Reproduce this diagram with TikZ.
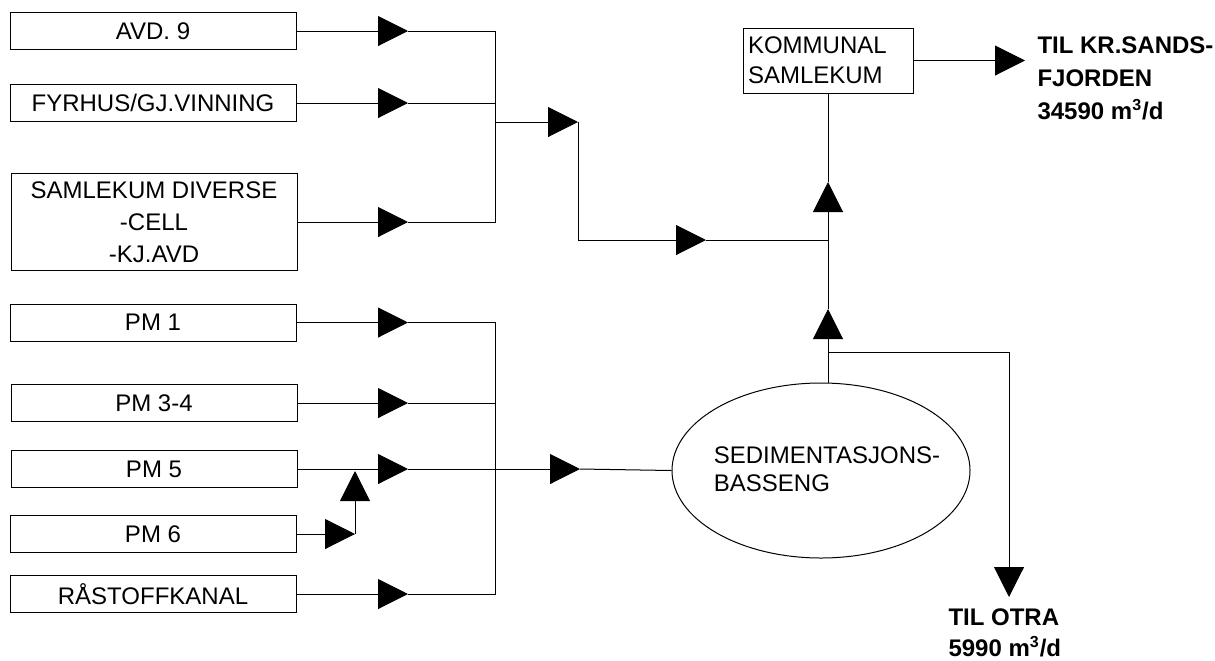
\documentclass[tikz,border=0pt]{standalone}
\usepackage{fontspec}
\setmainfont{Liberation Sans}
\usetikzlibrary{arrows.meta,shapes.geometric,positioning}

\tikzset{
  unit/.style={draw, minimum width=143pt, minimum height=18.5pt, inner sep=0pt},
  basin/.style={draw, ellipse, minimum width=149pt, minimum height=87.5pt, inner sep=0pt},
  flow/.style={-{Triangle[length=15pt,width=15pt]}},
  outtxt/.style={font=\bfseries\fontsize{12}{16.5}\selectfont, align=left, inner sep=0pt, anchor=north west},
}

\begin{document}
\begin{tikzpicture}[x=0.5pt, y=-0.5pt, line width=0.5pt,
    every node/.style={font=\fontsize{12}{16}\selectfont}]
    \useasboundingbox (0,0) rectangle (1215,660);

    % sources, upper group
    \node[unit] (avd) at (153,31) {AVD. 9};
    \node[unit] (fyr) at (153,103) {FYRHUS/GJ.VINNING};
    \node[unit, minimum height=48.5pt, align=center] (div) at (154,222) {SAMLEKUM DIVERSE\\-CELL\\-KJ.AVD};

    % sources, lower group
    \node[unit] (pm1) at (153,322.5) {PM 1};
    \node[unit] (pm34) at (154,403) {PM 3-4};
    \node[unit] (pm5) at (154,469) {PM 5};
    \node[unit] (pm6) at (153,534) {PM 6};
    \node[unit] (raa) at (153,594) {RÅSTOFFKANAL};

    % collector, basin and outlets
    \node[draw, text width=80pt, inner sep=2.5pt, minimum height=32.5pt, align=left,
          font=\fontsize{12}{15}\selectfont] (kom) at (828,60.5) {KOMMUNAL\\SAMLEKUM};
    \node[basin] (sed) at (821,470.5) {};
    \node[align=left, inner sep=0pt, font=\fontsize{12}{14}\selectfont] (sedtxt) at (827,469) {SEDIMENTASJONS-\\BASSENG};
    \node[outtxt] (fjordtxt) at (1037,36) {TIL KR.SANDS-\\FJORDEN\\34590 m\textsuperscript{3}/d};
    \node[outtxt, font=\bfseries\fontsize{12}{15.5}\selectfont] (otratxt) at (948,608) {TIL OTRA\\5990 m\textsuperscript{3}/d};

    % columns and bends
    \coordinate (incol) at (408,0);
    \coordinate (bus) at (495,0);
    \coordinate (j1) at (495,122);
    \coordinate (j2) at (578,122);
    \coordinate (j3) at (578,240);
    \coordinate (j4) at (706,240);
    \coordinate (p6a) at (355,534);
    \coordinate (p6b) at (355,471);
    \coordinate (p5) at (580,469);
    \coordinate (u1) at (828,309);
    \coordinate (u2) at (828,182);
    \coordinate (split) at (828,352);
    \coordinate (fjord) at (1025,60.5);
    \coordinate (otra) at (1009,597);

    % upper group into the collector
    \draw[flow] (avd.east) -- (avd.east -| incol);
    \draw[flow] (fyr.east) -- (fyr.east -| incol);
    \draw[flow] (div.east) -- (div.east -| incol);
    \draw (avd.east -| incol) -- (avd.east -| bus) -- (div.east -| bus) -- (div.east -| incol);
    \draw (fyr.east -| incol) -- (fyr.east -| bus);
    \draw[flow] (j1) -- (j2);
    \draw (j2) -- (j3);
    \draw[flow] (j3) -- (j4);
    \draw (j4) -- (j4 -| kom.south);

    % lower group into the basin
    \draw[flow] (pm1.east) -- (pm1.east -| incol);
    \draw[flow] (pm34.east) -- (pm34.east -| incol);
    \draw[flow] (pm5.east) -- (pm5.east -| incol);
    \draw[flow] (raa.east) -- (raa.east -| incol);
    \draw[flow] (pm6.east) -- (p6a);
    \draw[flow] (p6a) -- (p6b);
    \draw (pm1.east -| incol) -- (pm1.east -| bus) -- (raa.east -| bus) -- (raa.east -| incol);
    \draw (pm34.east -| incol) -- (pm34.east -| bus);
    \draw[flow] (pm5.east -| incol) -- (p5);
    \draw (p5) -- (sed.west);

    % basin up to the collector, overflow and outlets
    \draw[flow] (sed.north -| kom.south) -- (u1);
    \draw[flow] (u1) -- (u2);
    \draw (u2) -- (kom.south);
    \draw[flow] (split) -| (otra);
    \draw[flow] (kom.east) -- (fjord);
\end{tikzpicture}
\end{document}
